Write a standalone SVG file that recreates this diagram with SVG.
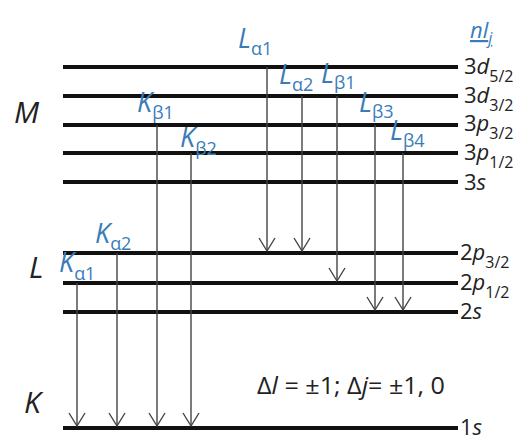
<svg xmlns="http://www.w3.org/2000/svg" width="522" height="440" viewBox="0 0 522 440">
<style>
.lvl{stroke:#111;stroke-width:4}
.arr{stroke:#444;stroke-width:1.4;fill:none}
.t{font-family:"Open Sans","Noto Sans",sans-serif;}
.blue{fill:#3a7cb8;font-style:italic}
.big{font-size:27px}
.sub{font-size:18px;font-style:normal}
.sh{font-size:30px;font-style:italic;fill:#222}
.rl{font-size:22px;fill:#222}
.rs{font-size:16px}
</style>
<defs>
<marker id="ah" viewBox="-14 -9 16 18" markerWidth="16" markerHeight="18" refX="0" refY="0" orient="auto" markerUnits="userSpaceOnUse">
<path d="M-13,-8 L0,0 L-13,8" fill="none" stroke="#444" stroke-width="1.4"/>
</marker>
</defs>
<g id="levels">
<line class="lvl" x1="63" y1="67" x2="458" y2="67"/>
<line class="lvl" x1="63" y1="96" x2="458" y2="96"/>
<line class="lvl" x1="63" y1="125" x2="458" y2="125"/>
<line class="lvl" x1="63" y1="153" x2="458" y2="153"/>
<line class="lvl" x1="63" y1="182" x2="458" y2="182"/>
<line class="lvl" x1="63" y1="253" x2="458" y2="253"/>
<line class="lvl" x1="63" y1="283" x2="458" y2="283"/>
<line class="lvl" x1="63" y1="312" x2="458" y2="312"/>
<line class="lvl" x1="63" y1="428" x2="458" y2="428"/>
</g>
<g id="connectors">
<line class="arr" x1="77" y1="283" x2="77" y2="426" marker-end="url(#ah)"/>
<line class="arr" x1="117" y1="253" x2="117" y2="426" marker-end="url(#ah)"/>
<line class="arr" x1="157" y1="125" x2="157" y2="426" marker-end="url(#ah)"/>
<line class="arr" x1="191" y1="153" x2="191" y2="426" marker-end="url(#ah)"/>
<line class="arr" x1="267" y1="67" x2="267" y2="251" marker-end="url(#ah)"/>
<line class="arr" x1="302" y1="96" x2="302" y2="251" marker-end="url(#ah)"/>
<line class="arr" x1="337" y1="96" x2="337" y2="281" marker-end="url(#ah)"/>
<line class="arr" x1="375" y1="125" x2="375" y2="310" marker-end="url(#ah)"/>
<line class="arr" x1="403" y1="153" x2="403" y2="310" marker-end="url(#ah)"/>
</g>
<g id="shells" class="t">
<text class="sh" x="14" y="123">M</text>
<text class="sh" x="29" y="278">L</text>
<text class="sh" x="24" y="413">K</text>
</g>
<g id="line-labels" class="t blue">
<text class="big" x="238" y="48">L<tspan class="sub" dy="7">α1</tspan></text>
<text class="big" x="279" y="84">L<tspan class="sub" dy="7">α2</tspan></text>
<text class="big" x="321" y="83">L<tspan class="sub" dy="6">β1</tspan></text>
<text class="big" x="359" y="112">L<tspan class="sub" dy="6">β3</tspan></text>
<text class="big" x="390" y="140">L<tspan class="sub" dy="7">β4</tspan></text>
<text class="big" x="137" y="112">K<tspan class="sub" dy="7">β1</tspan></text>
<text class="big" x="180" y="147">K<tspan class="sub" dy="8">β2</tspan></text>
<text class="big" x="95" y="243">K<tspan class="sub" dy="7">α2</tspan></text>
<text class="big" x="59" y="272">K<tspan class="sub" dy="8">α1</tspan></text>
</g>
<g id="level-labels" class="t">
<text class="t blue" x="470" y="38" font-size="22" text-decoration="underline">nl<tspan class="rs" dy="6" font-style="italic">j</tspan></text>
<text class="rl" x="464" y="74">3<tspan font-style="italic">d</tspan><tspan class="rs" dy="8">5/2</tspan></text>
<text class="rl" x="464" y="103">3<tspan font-style="italic">d</tspan><tspan class="rs" dy="8">3/2</tspan></text>
<text class="rl" x="464" y="131">3<tspan font-style="italic">p</tspan><tspan class="rs" dy="8">3/2</tspan></text>
<text class="rl" x="464" y="160">3<tspan font-style="italic">p</tspan><tspan class="rs" dy="8">1/2</tspan></text>
<text class="rl" x="464" y="190">3<tspan font-style="italic">s</tspan></text>
<text class="rl" x="460" y="260">2<tspan font-style="italic">p</tspan><tspan class="rs" dy="8">3/2</tspan></text>
<text class="rl" x="460" y="290">2<tspan font-style="italic">p</tspan><tspan class="rs" dy="8">1/2</tspan></text>
<text class="rl" x="460" y="319">2<tspan font-style="italic">s</tspan></text>
<text class="rl" x="460" y="435">1<tspan font-style="italic">s</tspan></text>
</g>
<g id="rule" class="t">
<text x="257" y="394" font-size="23" fill="#222" textLength="188" lengthAdjust="spacingAndGlyphs">Δ<tspan font-style="italic">l</tspan> = ±1; Δ<tspan font-style="italic">j</tspan>= ±1, 0</text>
</g>
</svg>
